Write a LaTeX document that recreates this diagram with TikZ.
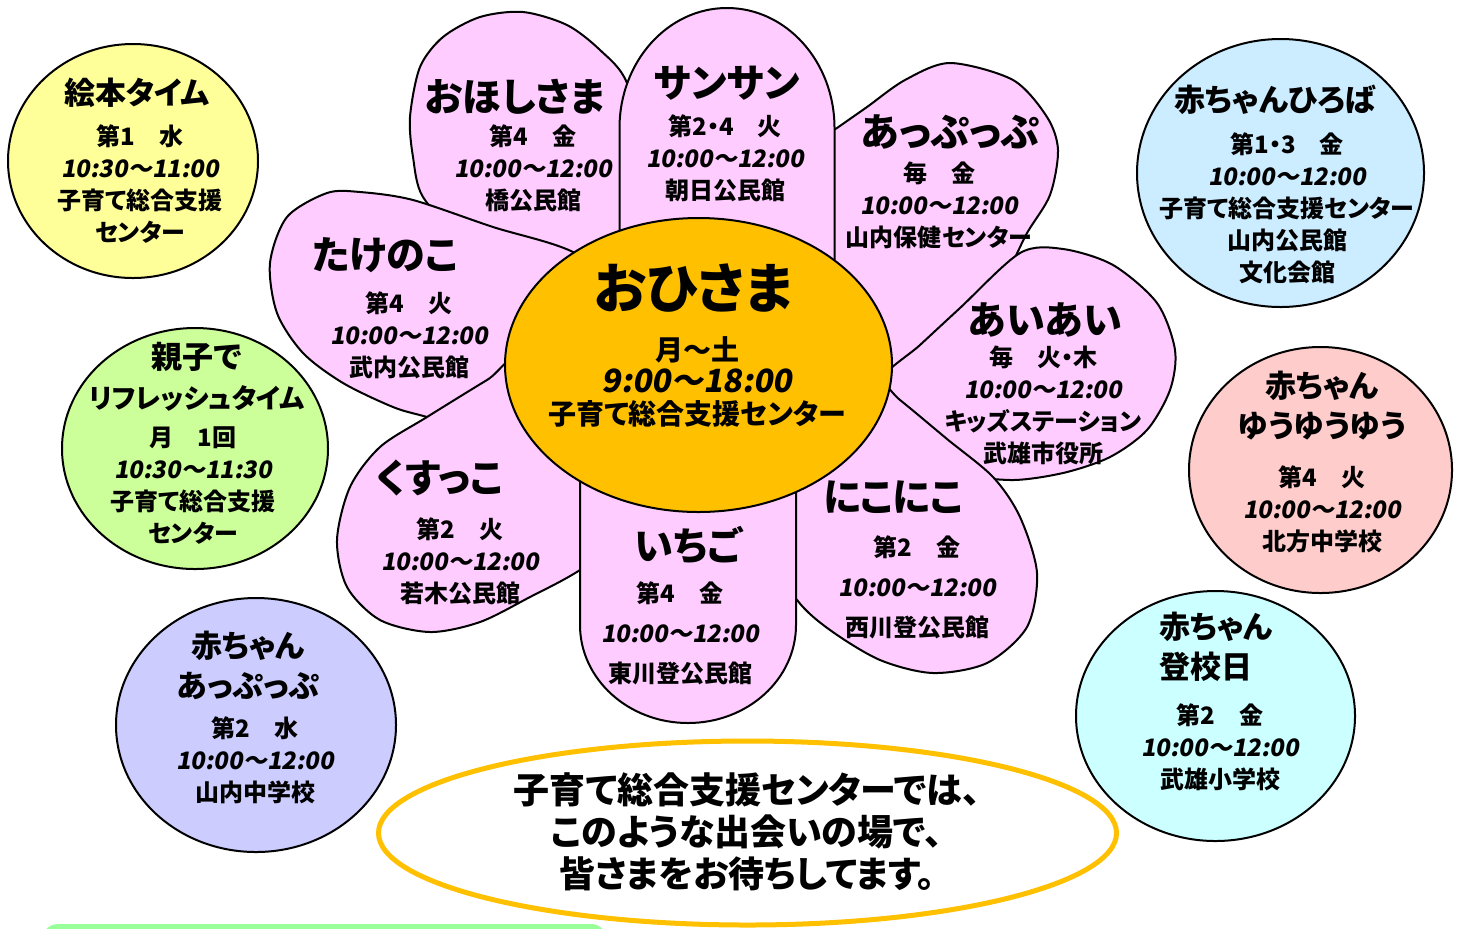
\documentclass[tikz,border=0pt]{standalone}
\usepackage{fontspec}
\newfontfamily\jpfont{Noto Sans CJK JP}[RawFeature=+palt]
\newfontfamily\jptime{Noto Sans CJK JP}[RawFeature=+palt,FakeSlant=0.17,BoldFeatures={FakeSlant=0.17}]
\newcommand\timetxt[1]{{\jptime\fontsize{12}{16}\selectfont #1}}
\definecolor{petalpink}{RGB}{255,204,255}
\definecolor{sunorange}{RGB}{255,192,0}
\definecolor{ehonyellow}{RGB}{255,255,153}
\definecolor{oyakogreen}{RGB}{204,255,153}
\definecolor{appublue}{RGB}{204,204,255}
\definecolor{hirobablue}{RGB}{204,236,255}
\definecolor{yuyupink}{RGB}{255,204,204}
\definecolor{tokoaqua}{RGB}{204,255,255}
\definecolor{footgreen}{RGB}{153,255,153}

\tikzset{every picture/.style={line width=1pt}}

\begin{document}
\begin{tikzpicture}[x=0.5pt,y=0.5pt,yscale=-1,xscale=1,
  petal/.style={draw=black,fill=petalpink},
  spot/.style={draw=black},
  bigtitle/.style={inner sep=0pt,font=\jpfont\bfseries\fontsize{27}{30}\selectfont},
  title/.style={inner sep=0pt,align=center,font=\jpfont\bfseries\fontsize{19.5}{22}\selectfont},
  ctitle/.style={inner sep=0pt,align=center,font=\jpfont\bfseries\fontsize{15.5}{20}\selectfont},
  info/.style={inner sep=0pt,align=center,font=\jpfont\bfseries\fontsize{12}{16}\selectfont},
  wide/.style={font=\jpfont\bfseries\fontsize{12}{20}\selectfont},
  msg/.style={inner sep=0pt,align=center,font=\jpfont\bfseries\fontsize{18}{21}\selectfont}]
\useasboundingbox (0,0) rectangle (1459,928);
\clip (0,0) rectangle (1459,928);

%Shape: Rectangle
\fill[footgreen,rounded corners=8pt] (42,924) rectangle (607,990);

%Shape: Ellipse
\draw[spot,fill=ehonyellow] (133,161) ellipse [x radius=125,y radius=117];
%Shape: Ellipse
\draw[spot,fill=oyakogreen] (195,448.5) ellipse [x radius=133,y radius=120.5];
%Shape: Ellipse
\draw[spot,fill=appublue] (256,725) ellipse [x radius=140,y radius=127];
%Shape: Ellipse
\draw[spot,fill=hirobablue] (1280.5,173) ellipse [x radius=143.5,y radius=134];
%Shape: Ellipse
\draw[spot,fill=yuyupink] (1320.5,470) ellipse [x radius=131.5,y radius=123];
%Shape: Ellipse
\draw[spot,fill=tokoaqua] (1215.5,716) ellipse [x radius=139.5,y radius=125];
%Shape: Ellipse
\draw[draw=sunorange,line width=2.5pt,fill=white] (747.5,833) ellipse [x radius=369,y radius=92];

%Shape: Petal
\draw[petal] plot[smooth cycle] coordinates {(423,197) (413,157) (410,117) (420,67) (443,37) (480,17) (523,12) (567,25) (600,50) (627,83) (650,170) (660,300) (560,300) (465,240)};
%Shape: Petal
\draw[petal] plot[smooth cycle] coordinates {(770,240) (800,154) (837,128) (867,107) (905,80) (950,63) (1013,80) (1047,117) (1058,150) (1050,195) (1027,233) (1005,275) (960,330) (880,380) (780,330)};
%Shape: Petal
\draw[petal] plot[smooth cycle] coordinates {(573,252) (493,227) (413,200) (360,192) (327,193) (287,217) (270,263) (277,313) (303,353) (343,383) (393,407) (427,417) (510,440) (610,420) (640,300)};
%Shape: Petal
\draw[petal] (619.5,330) -- (619.5,128) arc[start angle=180,end angle=360,x radius=107.5,y radius=120] -- (834.5,330) -- cycle;
%Shape: Petal
\draw[petal] plot[smooth cycle] coordinates {(880,382) (920,345) (960,308) (1020,253) (1063,249) (1113,265) (1157,303) (1175,350) (1170,390) (1147,430) (1110,457) (1063,473) (1010,480) (960,470) (905,420)};
%Shape: Petal
\draw[petal] plot[smooth cycle] coordinates {(530,355) (487,380) (427,417) (380,447) (350,487) (337,540) (347,587) (380,620) (430,632) (480,622) (530,597) (580,570) (650,520) (630,420)};
%Shape: Petal
\draw[petal] plot[smooth cycle] coordinates {(860,370) (900,400) (947,439) (993,477) (1020,517) (1037,573) (1027,627) (987,663) (933,673) (880,660) (830,630) (797,600) (760,540) (790,440)};
%Shape: Petal
\draw[petal] (580,380) -- (580,625) arc[start angle=180,end angle=0,x radius=108,y radius=98] -- (796,380) -- cycle;

%Shape: Ellipse
\draw[fill=sunorange] (698.5,365) ellipse [x radius=193.5,y radius=147];

% Text Node
\node[bigtitle] (ohisama-t) at (694,288) {おひさま};
% Text Node
\node[info,font=\jpfont\bfseries\fontsize{14}{16}\selectfont] (ohisama-i) at (697,382) {月～土\\{\jptime\fontsize{16}{16}\selectfont 9:00～18:00}\\子育て総合支援センター};

% Text Node
\node[title] (ohoshi-t) at (515,97) {おほしさま};
% Text Node
\node[info] (ohoshi-i) at (533,168) {第4　金\\\timetxt{10:00～12:00}\\橋公民館};
% Text Node
\node[title] (sansan-t) at (727,83) {サンサン};
% Text Node
\node[info] (sansan-i) at (725,158) {第2・4　火\\\timetxt{10:00～12:00}\\朝日公民館};
% Text Node
\node[title] (appuppu-t) at (950,132) {あっぷっぷ};
% Text Node
\node[info] (appuppu-i) at (939,205) {毎　金\\\timetxt{10:00～12:00}\\山内保健センター};
% Text Node
\node[title] (takenoko-t) at (385,255) {たけのこ};
% Text Node
\node[info] (takenoko-i) at (409,335) {第4　火\\\timetxt{10:00～12:00}\\武内公民館};
% Text Node
\node[title] (aiai-t) at (1045,320) {あいあい};
% Text Node
\node[info] (aiai-i) at (1043,405) {毎　火・木\\\timetxt{10:00～12:00}\\キッズステーション\\武雄市役所};
% Text Node
\node[title] (kusukko-t) at (440,478) {くすっこ};
% Text Node
\node[info] (kusukko-i) at (460,561) {第2　火\\\timetxt{10:00～12:00}\\若木公民館};
% Text Node
\node[title] (ichigo-t) at (688,545) {いちご};
% Text Node
\node[info,wide] (ichigo-i) at (680,633) {第4　金\\\timetxt{10:00～12:00}\\東川登公民館};
% Text Node
\node[title] (nikoniko-t) at (893,497) {にこにこ};
% Text Node
\node[info,wide] (nikoniko-i) at (917,587) {第2　金\\\timetxt{10:00～12:00}\\西川登公民館};

% Text Node
\node[ctitle] (ehon-t) at (137,93) {絵本タイム};
% Text Node
\node[info] (ehon-i) at (140,184) {第1　水\\\timetxt{10:30～11:00}\\子育て総合支援\\センター};
% Text Node
\node[ctitle] (oyako-t) at (197,377) {親子で\\{\fontsize{13.5}{20}\selectfont リフレッシュタイム}};
% Text Node
\node[info] (oyako-i) at (193,486) {月　1回\\\timetxt{10:30～11:30}\\子育て総合支援\\センター};
% Text Node
\node[ctitle] (akaapp-t) at (248,665.5) {赤ちゃん\\あっぷっぷ};
% Text Node
\node[info] (akaapp-i) at (255,760) {第2　水\\\timetxt{10:00～12:00}\\山内中学校};
% Text Node
\node[ctitle] (hiroba-t) at (1275,100) {赤ちゃんひろば};
% Text Node
\node[info] (hiroba-i) at (1287,208) {第1・3　金\\\timetxt{10:00～12:00}\\子育て総合支援センター\\山内公民館\\文化会館};
% Text Node
\node[ctitle] (yuyu-t) at (1322,406) {赤ちゃん\\ゆうゆうゆう};
% Text Node
\node[info] (yuyu-i) at (1322,509) {第4　火\\\timetxt{10:00～12:00}\\北方中学校};
% Text Node
\node[ctitle,align=left,anchor=west] (toko-t) at (1158,646.5) {赤ちゃん\\登校日};
% Text Node
\node[info] (toko-i) at (1220,747) {第2　金\\\timetxt{10:00～12:00}\\武雄小学校};

% Text Node
\node[msg] (msg) at (747,832) {子育て総合支援センターでは、\\このような出会いの場で、\\皆さまをお待ちしてます。};

\end{tikzpicture}
\end{document}
